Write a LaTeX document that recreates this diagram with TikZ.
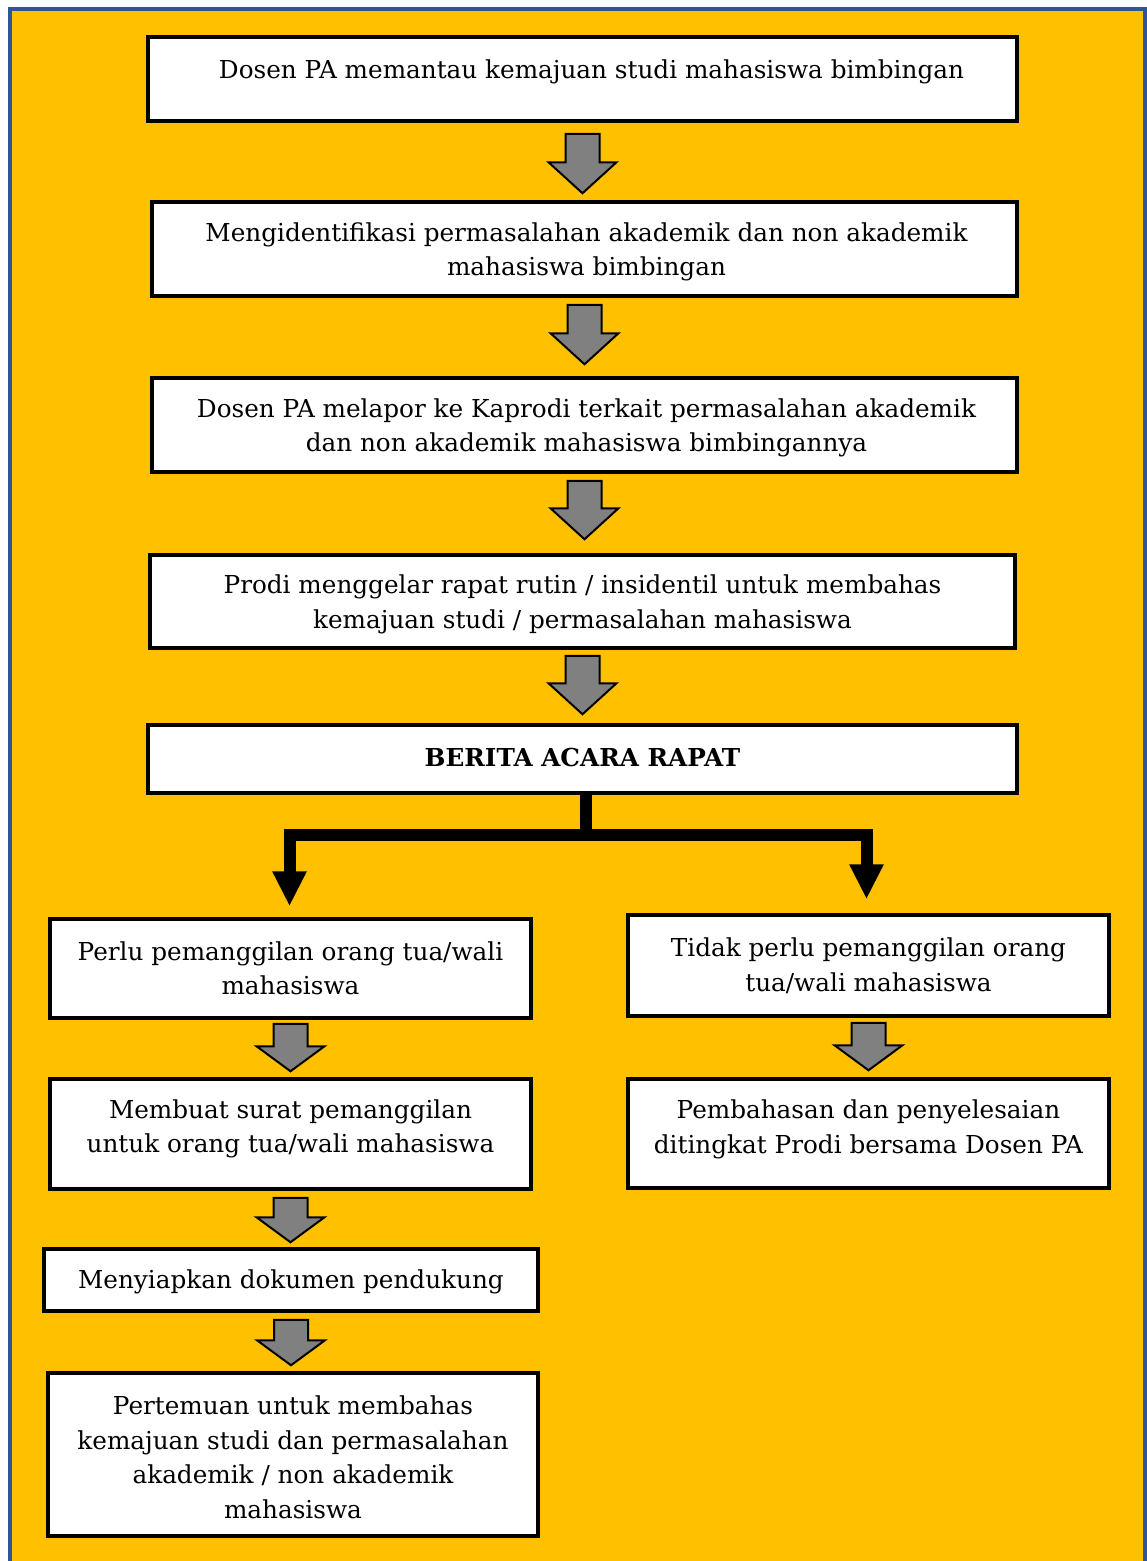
\documentclass[tikz,border=0pt]{standalone}
\usepackage{fontspec}
\setmainfont{DejaVu Serif}
\usetikzlibrary{fit,calc,arrows.meta}
\definecolor{frameblue}{HTML}{2F5597}
\definecolor{bgyellow}{HTML}{FFC000}
\definecolor{arrgray}{HTML}{808080}
\tikzset{
  boxnode/.style={draw=black, fill=white, line width=3.5pt, inner sep=0pt, rectangle},
  txt/.style={align=center, inner sep=0pt, yshift=-3pt, font=\fontsize{24.7}{34.5}\selectfont},
  garrow/.style={draw=black, fill=arrgray, line width=2pt, line join=miter},
  branch/.style={draw=black, line width=12pt, line join=miter},
}
% block arrow: from node, to node, top gap, tip gap, head length
\newcommand\blockarr[5]{%
  \draw[garrow] let \p1=(#1.south), \p2=(#2.north) in
   (\x1-17pt,\y1-#3pt) -- (\x1+17pt,\y1-#3pt) -- (\x1+17pt,\y2+#4pt+#5pt)
   -- (\x1+34pt,\y2+#4pt+#5pt) -- (\x1,\y2+#4pt) -- (\x1-34pt,\y2+#4pt+#5pt)
   -- (\x1-17pt,\y2+#4pt+#5pt) -- cycle;}
\begin{document}
\begin{tikzpicture}[x=1pt,y=-1pt]
\useasboundingbox (0,0) rectangle (1147,1561);
\clip (0,0) rectangle (1147,1561);
\fill[white] (0,0) rectangle (1147,1561);
\draw[frameblue, line width=4pt, fill=bgyellow] (9.5,9) rectangle (1145,1580);

% boxes
\node[boxnode, fit={(148,37) (1017,121)}] (b1) {};
\node[boxnode, fit={(152,202) (1017,296)}] (b2) {};
\node[boxnode, fit={(152,378) (1017,472)}] (b3) {};
\node[boxnode, fit={(150,555) (1015,648)}] (b4) {};
\node[boxnode, fit={(148,725) (1017,793)}] (b5) {};
\node[boxnode, fit={(50,919) (531,1018)}] (l1) {};
\node[boxnode, fit={(50,1079) (531,1189)}] (l2) {};
\node[boxnode, fit={(44,1249) (538,1311)}] (l3) {};
\node[boxnode, fit={(48,1373) (538,1536)}] (l4) {};
\node[boxnode, fit={(628,915) (1109,1016)}] (r1) {};
\node[boxnode, fit={(628,1079) (1109,1188)}] (r2) {};

% texts
\node[txt] (t1) at ($(b1.center)+(9,-10)$) {Dosen PA memantau kemajuan studi mahasiswa bimbingan};
\node[txt] (t2) at ($(b2.center)+(2,0)$) {Mengidentifikasi permasalahan akademik dan non akademik\\mahasiswa bimbingan};
\node[txt] (t3) at ($(b3.center)+(2,0)$) {Dosen PA melapor ke Kaprodi terkait permasalahan akademik\\dan non akademik mahasiswa bimbingannya};
\node[txt] (t4) at ($(b4.center)+(0,0)$) {Prodi menggelar rapat rutin / insidentil untuk membahas\\kemajuan studi / permasalahan mahasiswa};
\node[txt, font=\fontsize{24.7}{34.5}\selectfont\bfseries] (t5) at ($(b5.center)+(0,-5)$) {BERITA ACARA RAPAT};
\node[txt] (tl1) at ($(l1.center)+(0,-3)$) {Perlu pemanggilan orang tua/wali\\mahasiswa};
\node[txt] (tl2) at ($(l2.center)+(0,-8)$) {Membuat surat pemanggilan\\untuk orang tua/wali mahasiswa};
\node[txt] (tl3) at ($(l3.center)+(0,-1)$) {Menyiapkan dokumen pendukung};
\node[txt] (tl4) at ($(l4.center)+(0,0)$) {Pertemuan untuk membahas\\kemajuan studi dan permasalahan\\akademik / non akademik\\mahasiswa};
\node[txt] (tr1) at ($(r1.center)+(0,-3)$) {Tidak perlu pemanggilan orang\\tua/wali mahasiswa};
\node[txt] (tr2) at ($(r2.center)+(0,-7)$) {Pembahasan dan penyelesaian\\ditingkat Prodi bersama Dosen PA};

% block arrows
\blockarr{b1}{b2}{11}{7}{31}
\blockarr{b2}{b3}{7}{12}{31}
\blockarr{b3}{b4}{7}{14}{31}
\blockarr{b4}{b5}{6}{9}{31}
\blockarr{l1}{l2}{4}{6}{25}
\blockarr{l2}{l3}{7}{5}{25}
\blockarr{l3}{l4}{7}{6}{25}
\blockarr{r1}{r2}{5}{7}{25}

% branch
\coordinate (j) at (586,835);
\draw[branch] (b5.south -| j) -- (j);
\draw[branch, -{Triangle[width=32pt,length=35pt]}] (j) -| ($(l1.north)+(-1,-11)$);
\draw[branch, -{Triangle[width=32pt,length=35pt]}] (j) -| ($(r1.north)+(-2,-14)$);
\end{tikzpicture}
\end{document}
